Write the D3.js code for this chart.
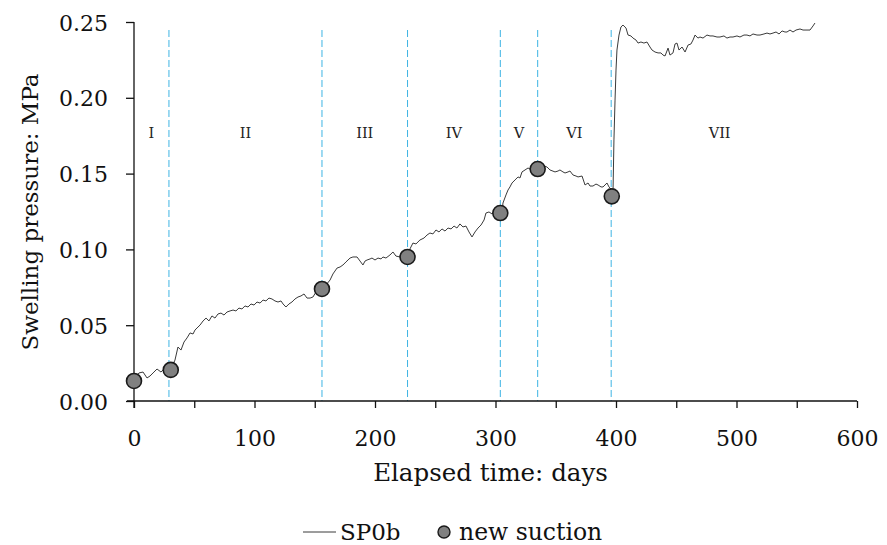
<!DOCTYPE html>
<html><head><meta charset="utf-8">
<script src="https://cdn.jsdelivr.net/npm/d3@7"></script>
<style>html,body{margin:0;padding:0;background:#fff;}svg{display:block;}</style>
</head><body>
<svg id="chart" width="887" height="545"></svg>
<script>
// Swelling pressure series SP0b: [elapsed days, MPa]
const days = [0,4.1,7.5,10.8,13.3,15.8,19.1,22.4,25.7,28.2,30.7,34.0,36.5,39.0,41.5,44.0,46.5,49.0,50.6,53.1,54.8,57.3,59.8,62.2,64.7,67.2,69.7,72.2,74.7,77.2,79.7,82.2,84.6,87.1,89.6,92.1,94.6,97.1,99.6,102.1,104.6,107.1,109.5,112.0,114.5,117.0,119.5,122.0,123.7,126.1,128.6,131.1,133.6,136.1,138.6,141.1,143.6,146.1,148.5,151.0,153.5,156.0,159.3,162.7,165.1,168.5,171.0,173.4,175.9,179.3,181.7,185.1,187.6,190.0,191.7,193.4,195.9,197.5,200.0,202.5,205.0,206.6,209.1,212.4,214.9,217.4,220.7,224.1,226.6,229.0,231.5,234.0,237.3,240.7,243.2,245.6,248.1,250.6,253.1,255.6,258.1,260.6,263.1,265.6,268.0,270.5,273.0,275.5,278.0,280.5,283.0,285.5,288.0,290.5,292.1,294.6,297.1,299.6,302.1,305.4,306.2,308.7,310.4,312.0,313.7,316.2,318.7,320.3,322.0,324.5,327.0,328.6,330.3,332.8,336.1,339.4,342.7,345.2,349.4,351.9,353.5,356.0,357.7,360.2,361.8,364.3,366.8,368.5,371.8,374.3,376.8,378.4,380.9,383.4,385.1,387.6,389.2,390.9,392.5,394.2,395.9,397.5,398.3,399.2,400.0,400.8,402.5,404.1,405.8,408.3,410.0,412.4,414.1,416.6,418.3,420.7,423.2,425.7,428.2,429.9,432.4,434.9,437.3,439.0,440.7,443.2,444.8,447.3,449.0,450.6,452.3,454.8,457.3,459.8,462.2,463.9,465.6,468.0,469.7,472.2,475.5,478.0,480.5,483.8,486.3,489.6,492.1,494.6,497.1,500.4,502.9,506.2,508.7,511.2,513.7,517.0,519.5,522.8,525.3,527.8,530.3,532.8,535.3,537.8,540.2,541.9,544.4,546.9,549.4,552.7,555.2,558.5,561.0,563.5,565.1];
const pressure = [0.0132,0.0185,0.0191,0.0152,0.0165,0.0185,0.0211,0.0191,0.0218,0.0204,0.0211,0.0270,0.0356,0.0336,0.0389,0.0416,0.0449,0.0442,0.0468,0.0488,0.0501,0.0528,0.0547,0.0528,0.0561,0.0547,0.0574,0.0580,0.0567,0.0587,0.0594,0.0600,0.0594,0.0613,0.0607,0.0627,0.0620,0.0640,0.0633,0.0653,0.0646,0.0666,0.0660,0.0679,0.0673,0.0660,0.0653,0.0660,0.0640,0.0620,0.0640,0.0653,0.0673,0.0686,0.0693,0.0706,0.0679,0.0679,0.0686,0.0719,0.0732,0.0739,0.0765,0.0798,0.0838,0.0877,0.0884,0.0897,0.0917,0.0943,0.0950,0.0950,0.0923,0.0897,0.0923,0.0930,0.0937,0.0943,0.0930,0.0943,0.0937,0.0950,0.0943,0.0963,0.0983,0.0956,0.0950,0.0943,0.0950,0.1003,0.1042,0.1036,0.1062,0.1075,0.1095,0.1108,0.1102,0.1128,0.1115,0.1135,0.1121,0.1141,0.1135,0.1154,0.1141,0.1168,0.1148,0.1154,0.1115,0.1082,0.1115,0.1141,0.1161,0.1194,0.1240,0.1247,0.1234,0.1253,0.1240,0.1247,0.1306,0.1359,0.1392,0.1412,0.1438,0.1458,0.1478,0.1471,0.1511,0.1524,0.1537,0.1530,0.1557,0.1544,0.1530,0.1550,0.1544,0.1524,0.1511,0.1517,0.1524,0.1511,0.1504,0.1511,0.1517,0.1491,0.1484,0.1478,0.1484,0.1425,0.1438,0.1418,0.1418,0.1431,0.1425,0.1412,0.1412,0.1425,0.1438,0.1412,0.1398,0.1372,0.1722,0.1985,0.2183,0.2315,0.2414,0.2467,0.2480,0.2460,0.2414,0.2408,0.2394,0.2381,0.2361,0.2368,0.2361,0.2368,0.2335,0.2315,0.2302,0.2296,0.2296,0.2282,0.2276,0.2328,0.2282,0.2296,0.2355,0.2361,0.2315,0.2335,0.2302,0.2348,0.2355,0.2381,0.2414,0.2394,0.2401,0.2394,0.2414,0.2408,0.2408,0.2401,0.2401,0.2408,0.2394,0.2401,0.2401,0.2408,0.2401,0.2414,0.2414,0.2408,0.2421,0.2414,0.2414,0.2421,0.2427,0.2421,0.2427,0.2434,0.2421,0.2441,0.2434,0.2434,0.2447,0.2434,0.2447,0.2454,0.2447,0.2447,0.2447,0.2474,0.2493];

// New suction applied (markers)
const suctionDays = [0, 30.5, 156, 227, 304, 335, 396.5];
const suctionValues = [0.0132, 0.0205, 0.0739, 0.0950, 0.1240, 0.1530, 0.1350];

// Stage boundaries (days) and stage labels
const stageBounds = [29, 156, 227, 304, 335, 396];
const stageLabels = ["I","II","III","IV","V","VI","VII"];
const stageEdges = [0, 29, 156, 227, 304, 335, 396, 576];

const xTicks = [0,50,100,150,200,250,300,350,400,450,500,550,600];
const yTicks = [0.00,0.05,0.10,0.15,0.20,0.25];

const seriesName = "SP0b";
const markerName = "new suction";
const xTitle = "Elapsed time: days";
const yTitle = "Swelling pressure: MPa";

const FONT = "'DejaVu Serif', serif";
const svg = d3.select("#chart");
const x = d3.scaleLinear().domain([0,600]).range([134,857]);
const y = d3.scaleLinear().domain([0,0.25]).range([401,22]);

// stage dividers
svg.append("g").selectAll("line").data(stageBounds).join("line")
  .attr("x1", d=>x(d)).attr("x2", d=>x(d))
  .attr("y1", 30).attr("y2", y(0))
  .attr("stroke", "#3db4e4").attr("stroke-width", 1)
  .attr("stroke-dasharray", "7,3");

// stage labels
svg.append("g").selectAll("text").data(stageLabels).join("text")
  .attr("x", (d,i)=>x((stageEdges[i]+stageEdges[i+1])/2))
  .attr("y", 133).attr("dy","0.35em")
  .attr("text-anchor","middle")
  .attr("font-family", FONT).attr("font-size", 14.5).attr("fill","#222")
  .text(d=>d);

// axes
const xAxis = d3.axisBottom(x).tickValues(xTicks).tickSize(7).tickSizeOuter(0)
  .tickFormat(d => d % 100 === 0 ? d3.format("d")(d) : "");
const gx = svg.append("g").attr("transform", `translate(0,${y(0)})`).call(xAxis);
gx.select(".domain").attr("d", `M127,0H${x(600)}`);
const yAxis = d3.axisLeft(y).tickValues(yTicks).tickSize(8).tickSizeOuter(0)
  .tickFormat(d3.format(".2f"));
const gy = svg.append("g").attr("transform", `translate(${x(0)},0)`).call(yAxis);
gy.select(".domain").attr("d", `M0,${y(0.25)}V${y(0)+7}`);

[gx, gy].forEach(g => {
  g.selectAll("path, line").attr("stroke", "#111").attr("stroke-width", 1.3);
  g.selectAll("text").attr("font-family", FONT).attr("font-size", 22).attr("fill", "#111");
});
gx.selectAll("text").attr("dy", "0").attr("y", 45);
gy.selectAll("text").attr("x", -26).attr("dy", "0.37em");

// series line
const line = d3.line().x((d,i)=>x(days[i])).y((d,i)=>y(pressure[i]));
svg.append("path").datum(pressure).attr("d", line)
  .attr("fill","none").attr("stroke","#3a3a3a").attr("stroke-width",1);

// markers
svg.append("g").selectAll("circle").data(suctionDays).join("circle")
  .attr("cx", d=>x(d)).attr("cy", (d,i)=>y(suctionValues[i])).attr("r", 7.5)
  .attr("fill","#808080").attr("stroke","#1a1a1a").attr("stroke-width",1.6);

// axis titles
svg.append("text").attr("x", (x(0)+x(600))/2 - 5).attr("y", 481)
  .attr("text-anchor","middle").attr("font-family",FONT).attr("font-size",24.5).attr("fill","#111")
  .text(xTitle);
svg.append("text").attr("transform", "translate(38,212) rotate(-90)")
  .attr("text-anchor","middle").attr("font-family",FONT).attr("font-size",23).attr("fill","#111")
  .text(yTitle);

// legend
const lg = svg.append("g");
lg.append("line").attr("x1",303).attr("x2",336).attr("y1",532).attr("y2",532)
  .attr("stroke","#3a3a3a").attr("stroke-width",1);
lg.append("text").attr("x",340).attr("y",532).attr("dy","0.35em")
  .attr("font-family",FONT).attr("font-size",23).attr("fill","#111").text(seriesName);
lg.append("circle").attr("cx",444).attr("cy",532).attr("r",6)
  .attr("fill","#808080").attr("stroke","#1a1a1a").attr("stroke-width",1.4);
lg.append("text").attr("x",459).attr("y",532).attr("dy","0.35em")
  .attr("font-family",FONT).attr("font-size",23.5).attr("fill","#111").text(markerName);
</script>
</body></html>
